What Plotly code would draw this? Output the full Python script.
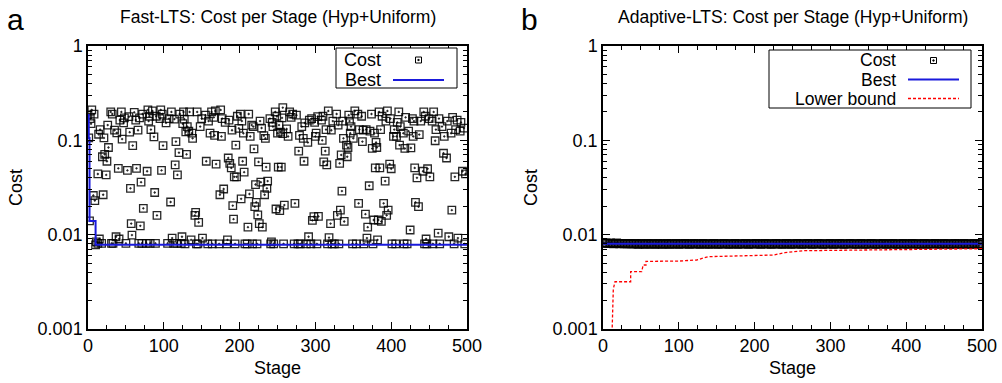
import plotly.graph_objects as go

# ---------------- data: panel a (Fast-LTS) ----------------
stage_a = [0, 1, 2, 3, 4, 5, 7, 8, 9, 10, 11, 13, 13, 14, 15, 16, 18, 19, 20, 21, 22, 24, 25, 26, 27,
           30, 31, 32, 33, 35, 37, 38, 40, 41, 42, 44, 45, 47, 48, 50, 52, 54, 55, 56, 57, 58, 59, 61, 63,
           64, 66, 67, 68, 69, 70, 71, 72, 73, 77, 78, 79, 80, 81, 82, 83, 85, 87, 88, 89, 90, 91, 95, 96,
           97, 98, 99, 103, 105, 107, 109, 110, 111, 113, 114, 115, 116, 117, 118, 120, 121, 123, 125,
           124, 126, 127, 128, 129, 130, 131, 133, 134, 136, 137, 138, 141, 142, 143, 144, 145, 146, 148,
           150, 151, 155, 156, 158, 159, 161, 163, 164, 166, 167, 168, 169, 173, 174, 175, 176, 177, 179,
           181, 183, 184, 185, 186, 187, 189, 190, 191, 192, 193, 194, 195, 196, 197, 199, 201, 202, 203,
           204, 205, 206, 207, 210, 211, 212, 213, 214, 216, 217, 218, 219, 220, 221, 222, 223, 224, 225,
           226, 227, 228, 229, 230, 232, 233, 234, 235, 236, 237, 240, 241, 242, 243, 244, 245, 247, 248,
           249, 250, 251, 252, 253, 254, 255, 256, 257, 257, 258, 259, 262, 264, 266, 268, 270, 272, 273,
           275, 277, 278, 279, 280, 282, 284, 285, 286, 288, 290, 291, 292, 294, 295, 296, 298, 299, 300,
           301, 302, 303, 304, 308, 309, 310, 311, 313, 314, 315, 316, 317, 318, 320, 321, 322, 323, 325,
           328, 329, 330, 331, 332, 333, 334, 335, 336, 337, 338, 341, 342, 343, 344, 345, 346, 347, 349,
           350, 352, 354, 356, 357, 358, 361, 362, 363, 364, 366, 367, 368, 369, 371, 372, 374, 375, 376,
           377, 378, 379, 380, 381, 382, 383, 384, 385, 386, 387, 388, 390, 392, 393, 394, 395, 396, 398,
           399, 400, 401, 403, 404, 406, 407, 408, 410, 411, 412, 416, 417, 418, 419, 421, 423, 425, 426,
           428, 429, 430, 431, 432, 434, 436, 437, 439, 442, 443, 444, 445, 446, 447, 448, 450, 451, 454,
           455, 456, 458, 459, 462, 463, 464, 467, 469, 470, 473, 474, 476, 479, 480, 481, 483, 484, 485,
           487, 488, 491, 492, 494, 496, 497, 498]
cost_a = [0.186, 0.106, 0.0140, 0.17, 0.15, 0.21, 0.026, 0.19, 0.023, 0.0078, 0.0084, 0.044, 0.0081,
          0.116, 0.009, 0.13, 0.0081, 0.067, 0.0265, 0.106, 0.071, 0.043, 0.06, 0.145, 0.084,
          0.2, 0.0081, 0.19, 0.0081, 0.128, 0.0095, 0.12, 0.0505, 0.009, 0.164, 0.2, 0.103, 0.153, 0.173,
          0.0081, 0.048, 0.178, 0.122, 0.031, 0.0131, 0.0099, 0.088, 0.198, 0.164,
          0.0505, 0.128, 0.0081, 0.173, 0.0124, 0.036, 0.0081, 0.19, 0.019, 0.0081, 0.047, 0.21, 0.16,
          0.18, 0.0081, 0.13, 0.205, 0.109, 0.028, 0.0081, 0.18, 0.016, 0.17, 0.21,
          0.048, 0.19, 0.088, 0.153, 0.0081, 0.17, 0.0222, 0.2, 0.0092, 0.0081, 0.168, 0.055, 0.097,
          0.0081, 0.043, 0.074, 0.19, 0.0081, 0.15,
          0.0095, 0.2, 0.168, 0.008, 0.123, 0.071, 0.14, 0.125, 0.2, 0.0088, 0.119, 0.105, 0.016, 0.0172,
          0.008, 0.2, 0.008, 0.0135, 0.14,
          0.17, 0.0092, 0.185, 0.06, 0.008, 0.16, 0.119, 0.2, 0.008, 0.175, 0.113, 0.205, 0.056, 0.008,
          0.0265, 0.21, 0.11, 0.17, 0.0305,
          0.155, 0.008, 0.0088, 0.065, 0.164, 0.057, 0.051, 0.128, 0.0203, 0.0146, 0.041, 0.008, 0.089,
          0.041, 0.18, 0.134, 0.19, 0.024, 0.16,
          0.06, 0.119, 0.046, 0.008, 0.008, 0.012, 0.19, 0.027, 0.11, 0.145, 0.008, 0.14, 0.081, 0.0198,
          0.034, 0.022, 0.008, 0.0162, 0.059,
          0.0131, 0.16, 0.036, 0.135, 0.012, 0.112, 0.0265, 0.105, 0.052, 0.031, 0.037, 0.17, 0.008,
          0.0084, 0.155, 0.14, 0.008, 0.2, 0.0187,
          0.18, 0.119, 0.052, 0.145, 0.018, 0.122, 0.052, 0.173, 0.118, 0.222, 0.008, 0.0206, 0.132,
          0.11, 0.2, 0.175, 0.19, 0.008, 0.0215,
          0.185, 0.008, 0.077, 0.113, 0.008, 0.14, 0.105, 0.06, 0.153, 0.008, 0.095, 0.0095, 0.164,
          0.008, 0.17, 0.0142, 0.0155, 0.155, 0.11,
          0.119, 0.008, 0.178, 0.0156, 0.164, 0.1, 0.18, 0.059, 0.077, 0.13, 0.055, 0.008, 0.205,
          0.0093, 0.0131, 0.128, 0.008, 0.16, 0.008,
          0.19, 0.016, 0.145, 0.008, 0.057, 0.0182, 0.07, 0.029, 0.16, 0.105, 0.0138, 0.089, 0.067,
          0.084, 0.185, 0.16, 0.119, 0.14, 0.008,
          0.105, 0.205, 0.008, 0.19, 0.0215, 0.13, 0.18, 0.097, 0.128, 0.008, 0.0165, 0.13, 0.0092,
          0.012, 0.033, 0.125, 0.19, 0.082, 0.008,
          0.0143, 0.119, 0.051, 0.095, 0.084, 0.0088, 0.0143, 0.2, 0.051, 0.13, 0.0138, 0.18, 0.0215,
          0.037, 0.16, 0.016, 0.205, 0.0182, 0.056,
          0.17, 0.05, 0.008, 0.11, 0.13, 0.008, 0.11, 0.155, 0.2, 0.089, 0.14, 0.119, 0.008, 0.082,
          0.175, 0.008, 0.125, 0.0112, 0.083,
          0.17, 0.11, 0.16, 0.051, 0.022, 0.04, 0.0198, 0.115, 0.16, 0.047, 0.2, 0.008, 0.18, 0.009,
          0.008, 0.05, 0.17, 0.041, 0.16,
          0.008, 0.2, 0.099, 0.13, 0.0104, 0.17, 0.008, 0.14, 0.073, 0.11, 0.065, 0.16, 0.0095, 0.119,
          0.0182, 0.175, 0.008, 0.041, 0.13,
          0.164, 0.0092, 0.125, 0.155, 0.047, 0.135, 0.008, 0.044]
best_stage_a = [0, 1, 2, 10, 500]
best_a = [0.186, 0.106, 0.0140, 0.0078, 0.0078]

# ---------------- data: panel b (Adaptive-LTS) ----------------
stage_b = list(range(0, 501, 2))
cost_b = [0.0082, 0.0081, 0.0082, 0.0081, 0.0081, 0.0082, 0.0081, 0.0080, 0.0081, 0.0082,
          0.0081, 0.0080, 0.0081, 0.0081, 0.0080, 0.0081, 0.0080, 0.0080, 0.0081, 0.0080,
          0.0080, 0.0081, 0.0080, 0.0079, 0.0080, 0.0081, 0.0080, 0.0080, 0.0079, 0.0080,
          0.0081, 0.0080, 0.0080, 0.0080, 0.0079, 0.0080, 0.0081, 0.0080, 0.0080, 0.0079,
          0.0080, 0.0080, 0.0081, 0.0080, 0.0079, 0.0080, 0.0080, 0.0080, 0.0081, 0.0080,
          0.0079, 0.0080, 0.0080, 0.0080, 0.0081, 0.0080, 0.0080, 0.0079, 0.0080, 0.0080,
          0.0081, 0.0080, 0.0080, 0.0080, 0.0079, 0.0080, 0.0081, 0.0080, 0.0080, 0.0080,
          0.0079, 0.0080, 0.0080, 0.0081, 0.0080, 0.0080, 0.0079, 0.0080, 0.0080, 0.0080,
          0.0081, 0.0080, 0.0080, 0.0079, 0.0080, 0.0080, 0.0080, 0.0081, 0.0080, 0.0079,
          0.0080, 0.0080, 0.0080, 0.0080, 0.0081, 0.0080, 0.0079, 0.0080, 0.0080, 0.0080,
          0.0080, 0.0081, 0.0080, 0.0080, 0.0079, 0.0080, 0.0080, 0.0081, 0.0080, 0.0080,
          0.0080, 0.0079, 0.0080, 0.0080, 0.0081, 0.0080, 0.0080, 0.0080, 0.0079, 0.0080,
          0.0080, 0.0081, 0.0080, 0.0080, 0.0079, 0.0080, 0.0080, 0.0080, 0.0081, 0.0080,
          0.0080, 0.0079, 0.0080, 0.0080, 0.0080, 0.0081, 0.0080, 0.0080, 0.0079, 0.0080,
          0.0080, 0.0080, 0.0081, 0.0080, 0.0080, 0.0079, 0.0080, 0.0080, 0.0080, 0.0080,
          0.0081, 0.0080, 0.0079, 0.0080, 0.0080, 0.0080, 0.0081, 0.0080, 0.0080, 0.0079,
          0.0080, 0.0080, 0.0080, 0.0081, 0.0080, 0.0080, 0.0080, 0.0079, 0.0080, 0.0080,
          0.0081, 0.0080, 0.0080, 0.0079, 0.0080, 0.0080, 0.0080, 0.0081, 0.0080, 0.0080,
          0.0079, 0.0080, 0.0080, 0.0080, 0.0080, 0.0081, 0.0080, 0.0079, 0.0080, 0.0080,
          0.0080, 0.0081, 0.0080, 0.0080, 0.0079, 0.0080, 0.0080, 0.0080, 0.0081, 0.0080,
          0.0080, 0.0079, 0.0080, 0.0080, 0.0081, 0.0080, 0.0080, 0.0080, 0.0079, 0.0080,
          0.0080, 0.0080, 0.0081, 0.0080, 0.0079, 0.0080, 0.0080, 0.0080, 0.0080, 0.0081,
          0.0080, 0.0080, 0.0079, 0.0080, 0.0080, 0.0081, 0.0080, 0.0080, 0.0080, 0.0079,
          0.0080, 0.0080, 0.0081, 0.0080, 0.0080, 0.0080, 0.0079, 0.0080, 0.0081, 0.0080,
          0.0080, 0.0080, 0.0079, 0.0080, 0.0080, 0.0081, 0.0080, 0.0080, 0.0079, 0.0080,
          0.0080]
best_stage_b = [0, 500]
best_b = [0.0080, 0.0080]
lb_stage = [11, 13.6, 15.8, 36.5, 36.5, 51, 53, 56.7, 56.7, 100, 123.6, 139, 224.7, 240, 264, 422, 500]
lb_val = [0.0005, 0.00265, 0.00317, 0.00317, 0.00405, 0.00405, 0.00477, 0.00477, 0.00521, 0.00525,
          0.00539, 0.00585, 0.00608, 0.00644, 0.00676, 0.00699, 0.0071]

titles = ["Fast-LTS: Cost per Stage (Hyp+Uniform)", "Adaptive-LTS: Cost per Stage (Hyp+Uniform)"]
ytick_vals = [0.001, 0.01, 0.1, 1]
ytick_text = ["0.001", "0.01", "0.1", "1"]

W, H = 1002, 383
FONT = "Liberation Sans, Arial, Helvetica, sans-serif"


def px(x):
    return x / W


def py(y):
    return 1 - y / H


fig = go.Figure()

marker = dict(symbol="square-open-dot", size=7.5, color="rgba(0,0,0,0.85)", line=dict(width=1.3))

fig.add_trace(go.Scatter(x=stage_a, y=cost_a, mode="markers", marker=marker,
                         xaxis="x", yaxis="y", showlegend=False, name="Cost"))
fig.add_trace(go.Scatter(x=best_stage_a, y=best_a, mode="lines", line=dict(color="#1a1adc", width=2, shape="hv"),
                         xaxis="x", yaxis="y", showlegend=False, name="Best"))

fig.add_trace(go.Scatter(x=stage_b, y=cost_b, mode="markers", marker=marker,
                         xaxis="x2", yaxis="y2", showlegend=False, name="Cost"))
fig.add_trace(go.Scatter(x=best_stage_b, y=best_b, mode="lines", line=dict(color="#1a1adc", width=2, shape="hv"),
                         xaxis="x2", yaxis="y2", showlegend=False, name="Best"))
fig.add_trace(go.Scatter(x=lb_stage, y=lb_val, mode="lines", line=dict(color="#ff0000", width=1.3, dash="3px,2px"),
                         xaxis="x2", yaxis="y2", showlegend=False, name="Lower bound"))

minor_y = [m * 10 ** e for e in (-3, -2, -1) for m in range(2, 10)]

xcommon = dict(range=[0, 500], dtick=100, tick0=0, ticks="inside", ticklen=7, tickwidth=1,
               tickcolor="black", showline=True, linecolor="black", linewidth=1.5, mirror="allticks",
               showgrid=False, zeroline=False, tickfont=dict(size=18, color="black"), automargin=False,
               minor=dict(dtick=25, ticks="inside", ticklen=4, tickcolor="black", showgrid=False),
               title=dict(text="Stage", font=dict(size=18, color="black"), standoff=6))
ycommon = dict(type="log", range=[-3, 0], tickvals=ytick_vals, ticktext=ytick_text, ticks="inside",
               ticklen=7, tickwidth=1, tickcolor="black", showline=True, linecolor="black", linewidth=1.5,
               mirror="allticks", showgrid=False, zeroline=False, tickfont=dict(size=18, color="black"),
               automargin=False,
               minor=dict(tickvals=minor_y, ticks="inside", ticklen=4, tickcolor="black", showgrid=False),
               title=dict(text="Cost", font=dict(size=18, color="black"), standoff=10))

ybot, ytop = py(329), py(46)
fig.update_layout(
    width=W, height=H, margin=dict(l=0, r=0, t=0, b=0, autoexpand=False),
    paper_bgcolor="white", plot_bgcolor="white",
    font=dict(family=FONT, color="black"),
    xaxis=dict(domain=[px(88), px(467)], anchor="y", **xcommon),
    yaxis=dict(domain=[ybot, ytop], anchor="x", **ycommon),
    xaxis2=dict(domain=[px(603), px(982)], anchor="y2", **xcommon),
    yaxis2=dict(domain=[ybot, ytop], anchor="x2", **ycommon),
)

ann = []
shapes = []
ann.append(dict(x=px(277.5), y=py(17), xref="paper", yref="paper", text=titles[0], showarrow=False,
                font=dict(size=17.5), xanchor="center", yanchor="middle"))
ann.append(dict(x=px(792.5), y=py(17), xref="paper", yref="paper", text=titles[1], showarrow=False,
                font=dict(size=17.5), xanchor="center", yanchor="middle"))
ann.append(dict(x=px(6), y=py(19), xref="paper", yref="paper", text="a", showarrow=False,
                font=dict(size=30), xanchor="left", yanchor="middle", borderpad=0))
ann.append(dict(x=px(520), y=py(19), xref="paper", yref="paper", text="b", showarrow=False,
                font=dict(size=30), xanchor="left", yanchor="middle", borderpad=0))


def legend(box, text_right, rows, sample_x0, sample_x1, fsize):
    x0, y0, x1, y1 = box
    shapes.append(dict(type="rect", xref="paper", yref="paper", x0=px(x0), y0=py(y1), x1=px(x1), y1=py(y0),
                       line=dict(color="black", width=1), fillcolor="white", layer="above"))
    for label, ypos, kind in rows:
        ann.append(dict(x=px(text_right), y=py(ypos), xref="paper", yref="paper", text=label, showarrow=False,
                        font=dict(size=fsize), xanchor="right", yanchor="middle", borderpad=0))
        if kind == "marker":
            cx = (sample_x0 + sample_x1) / 2
            shapes.append(dict(type="rect", xref="paper", yref="paper", x0=px(cx - 3), x1=px(cx + 3),
                               y0=py(ypos + 3), y1=py(ypos - 3), line=dict(color="black", width=1), layer="above"))
            shapes.append(dict(type="rect", xref="paper", yref="paper", x0=px(cx - 0.6), x1=px(cx + 0.6),
                               y0=py(ypos + 0.6), y1=py(ypos - 0.6), line=dict(color="black", width=1),
                               fillcolor="black", layer="above"))
        elif kind == "best":
            shapes.append(dict(type="line", xref="paper", yref="paper", x0=px(sample_x0), x1=px(sample_x1),
                               y0=py(ypos), y1=py(ypos), line=dict(color="#1a1adc", width=2), layer="above"))
        else:
            shapes.append(dict(type="line", xref="paper", yref="paper", x0=px(sample_x0), x1=px(sample_x1),
                               y0=py(ypos), y1=py(ypos), line=dict(color="#ff0000", width=1.3, dash="3px,2px"),
                               layer="above"))


legend((336, 48, 457, 88), 382, [("Cost", 60, "marker"), ("Best", 80, "best")], 393, 444, 18)
legend((769, 50, 971, 108), 897, [("Cost", 60.5, "marker"), ("Best", 79.5, "best"), ("Lower bound", 98.5, "lb")],
       908, 959, 17.5)

fig.update_layout(annotations=ann, shapes=shapes)
fig.write_html("out.html")
